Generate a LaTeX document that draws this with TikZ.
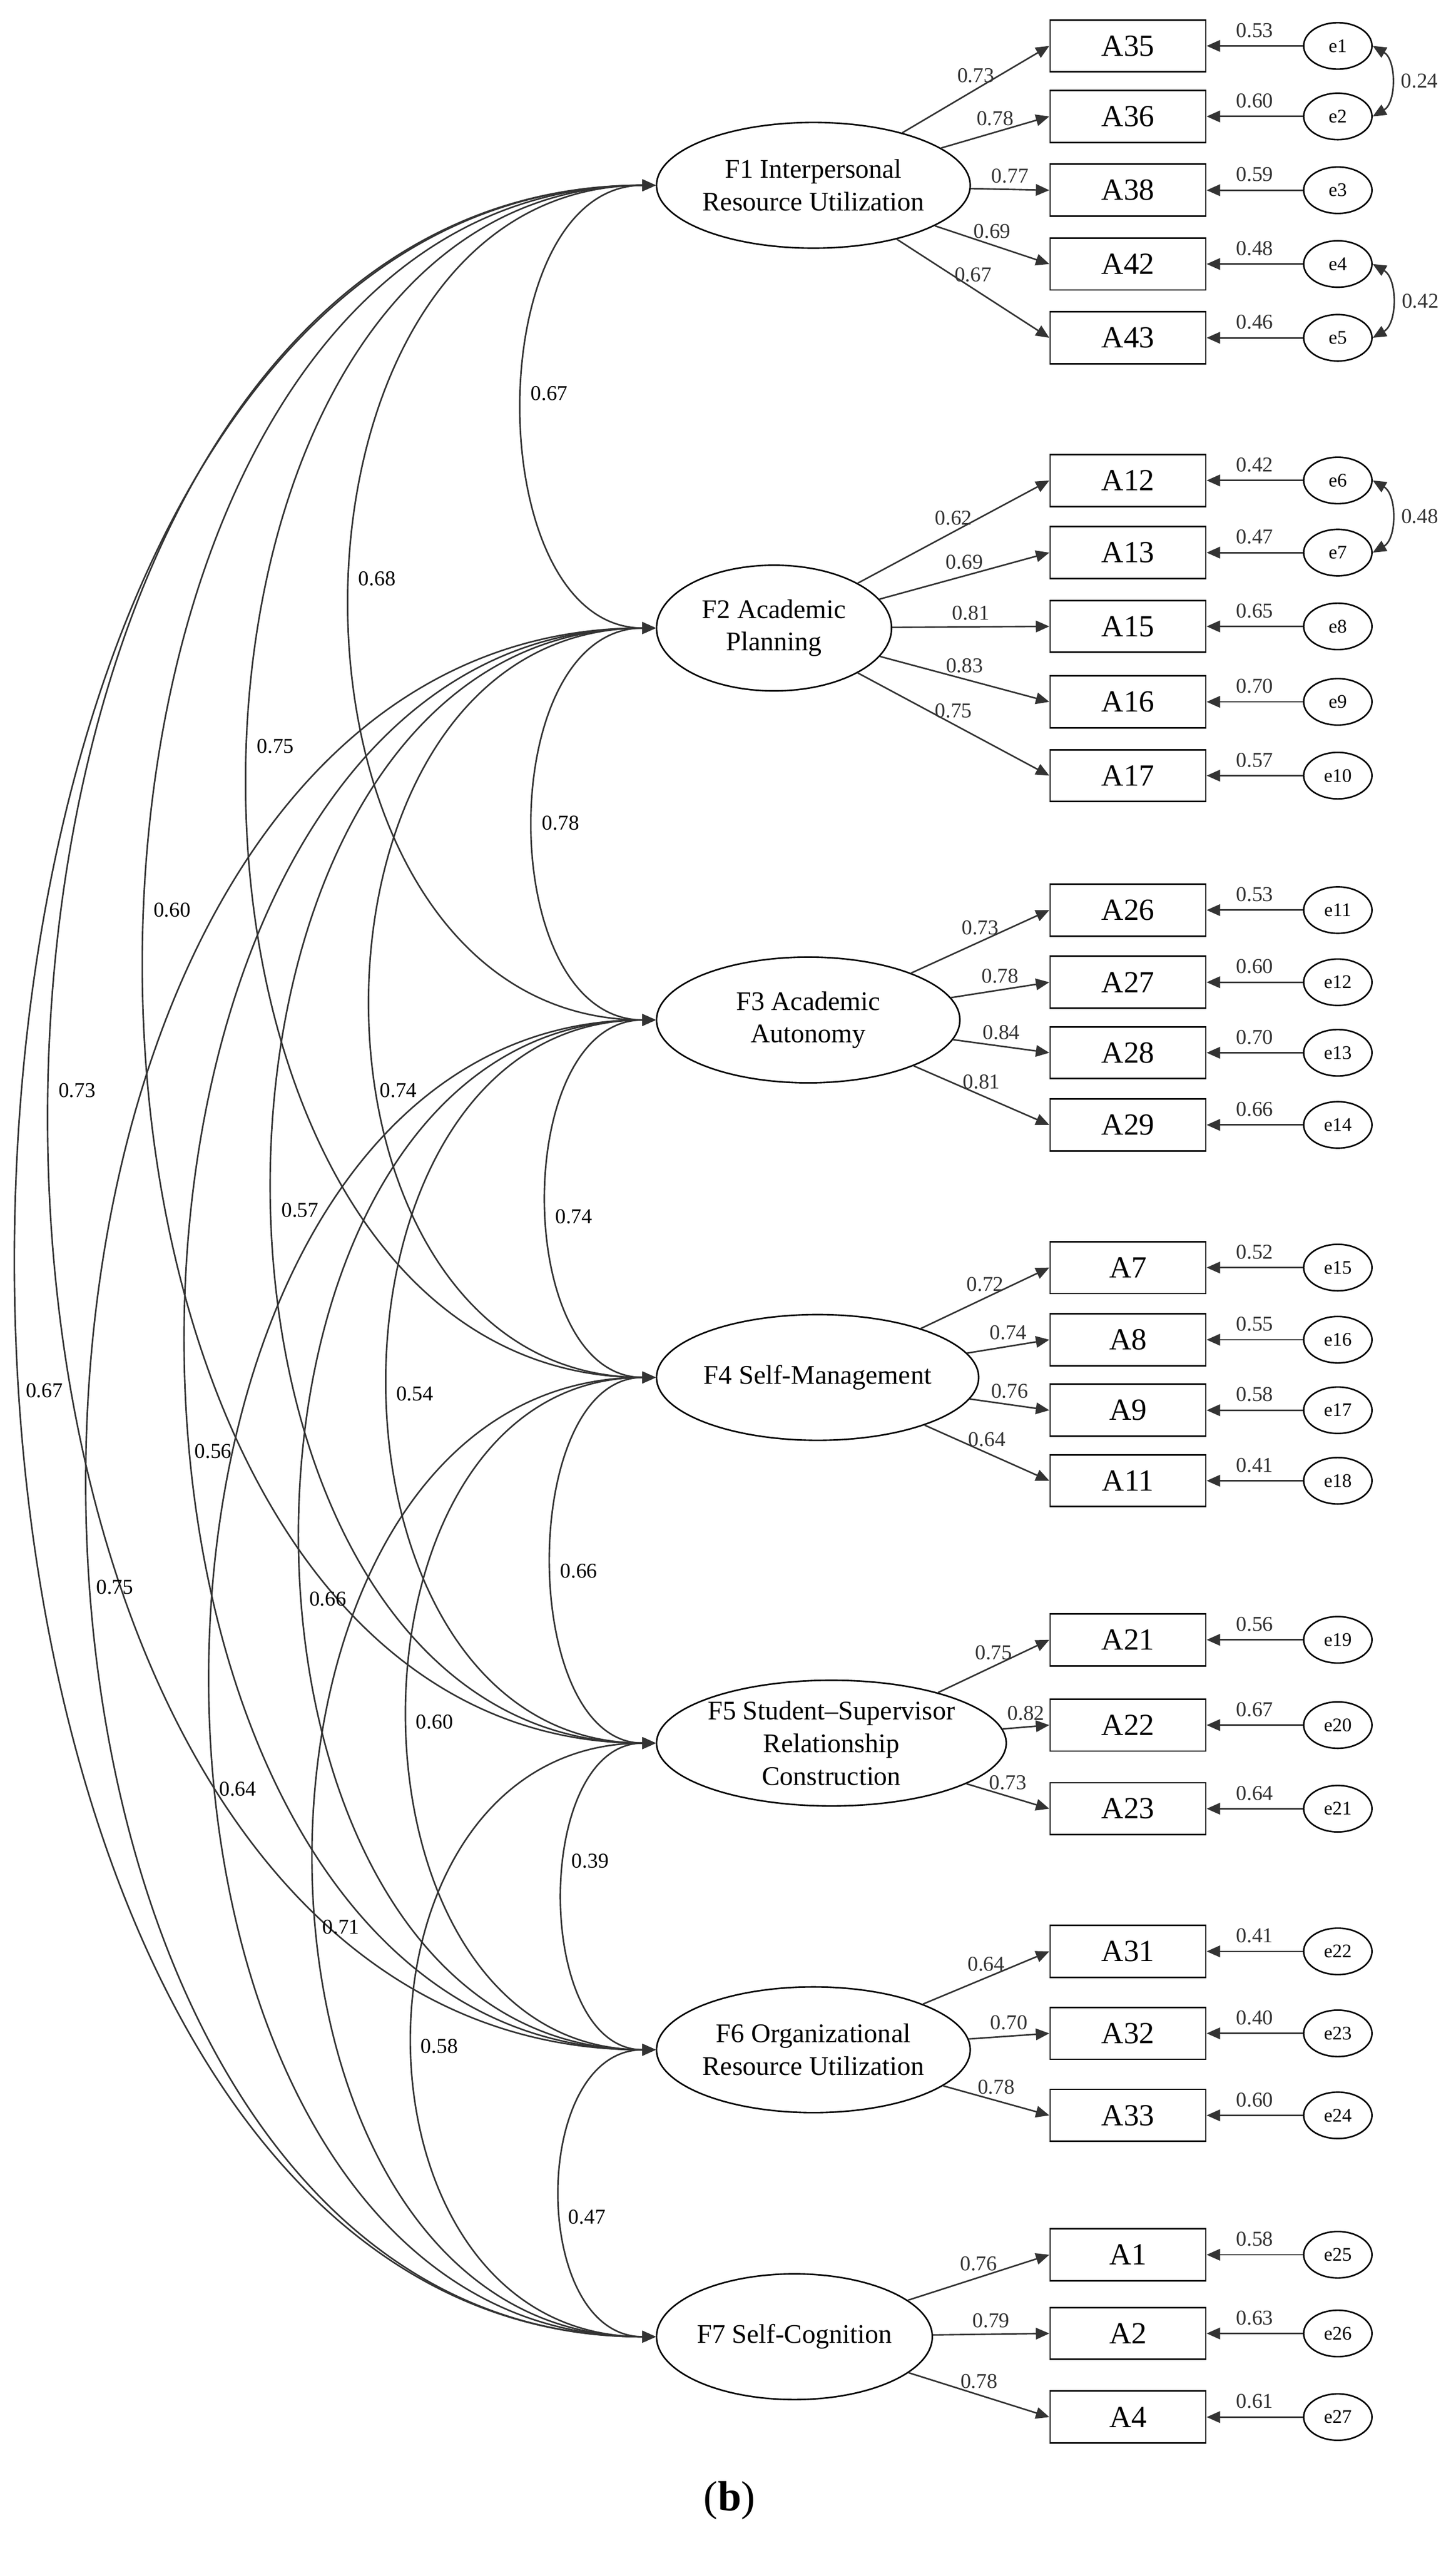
\documentclass[tikz,border=0pt]{standalone}
\usepackage{fontspec}
\setmainfont{Liberation Serif}
\usetikzlibrary{positioning}
\usetikzlibrary{shapes,arrows.meta,calc}
\tikzset{
    % standard arrow tip
    >={Triangle[length=7pt,width=6pt]},
    % latent factor
    factor/.style={
           draw,
           thick,
           ellipse,
           anchor=west,
           inner sep=0pt,
           minimum height=2.3cm,
           align=center,
           font=\fontsize{14}{17}\selectfont},
    % observed item
    item/.style={
           draw,
           thick,
           rectangle,
           minimum width=2.85cm,
           minimum height=0.95cm,
           font=\fontsize{16}{18}\selectfont},
    % error term
    err/.style={
           draw,
           thick,
           ellipse,
           inner sep=0pt,
           minimum width=1.25cm,
           minimum height=0.85cm,
           font=\fontsize{10}{12}\selectfont},
    % coefficients
    coef/.style={
           font=\fontsize{11}{13}\selectfont,
           inner sep=1pt},
    pil/.style={
           ->,
           thick,
           black!80}
}

\begin{document}
\begin{tikzpicture}[x=0.03cm,y=-0.03cm]

\useasboundingbox (0,0) rectangle (888,1563);

% factors
\node [factor, minimum width=5.55cm] (f1) at (400, 113) {F1 Interpersonal\\Resource Utilization};
\node [factor, minimum width=4.3cm]  (f2) at (400, 383) {F2 Academic\\Planning};
\node [factor, minimum width=5.55cm] (f3) at (400, 622) {F3 Academic\\Autonomy};
\node [factor, minimum width=5.55cm] (f4) at (400, 840) {F4 Self-Management};
\node [factor, minimum width=5.95cm] (f5) at (400,1063) {F5 Student--Supervisor\\Relationship\\Construction};
\node [factor, minimum width=5.55cm] (f6) at (400,1250) {F6 Organizational\\Resource Utilization};
\node [factor, minimum width=4.8cm]  (f7) at (400,1425) {F7 Self-Cognition};

% items and errors
\foreach \ind/\y/\lf/\err/\le/\fac in {
    A35/28/0.73/e1/0.53/f1, A36/71/0.78/e2/0.60/f1, A38/116/0.77/e3/0.59/f1,
    A42/161/0.69/e4/0.48/f1, A43/206/0.67/e5/0.46/f1,
    A12/293/0.62/e6/0.42/f2, A13/337/0.69/e7/0.47/f2, A15/382/0.81/e8/0.65/f2,
    A16/428/0.83/e9/0.70/f2, A17/473/0.75/e10/0.57/f2,
    A26/555/0.73/e11/0.53/f3, A27/599/0.78/e12/0.60/f3, A28/642/0.84/e13/0.70/f3,
    A29/686/0.81/e14/0.66/f3,
    A7/773/0.72/e15/0.52/f4, A8/817/0.74/e16/0.55/f4, A9/860/0.76/e17/0.58/f4,
    A11/903/0.64/e18/0.41/f4,
    A21/1000/0.75/e19/0.56/f5, A22/1052/0.82/e20/0.67/f5, A23/1103/0.73/e21/0.64/f5,
    A31/1190/0.64/e22/0.41/f6, A32/1240/0.70/e23/0.40/f6, A33/1290/0.78/e24/0.60/f6,
    A1/1375/0.76/e25/0.58/f7, A2/1423/0.79/e26/0.63/f7, A4/1474/0.78/e27/0.61/f7}
{
    \node [item] (\ind) at (688,\y) {\ind};
    \node [err] (\err) at (816,\y) {\err};
    \draw [pil] (\fac) -- (\ind.west) node [coef, pos=0.5, above=2pt] {\lf};
    \draw [pil] (\err) -- (\ind.east) node [coef, midway, above=3pt] {\le};
}

% error covariances
\foreach \a/\b/\v in {e1/e2/0.24, e4/e5/0.42, e6/e7/0.48}
    \draw [pil, <->] (\a.east) to [bend left=60] node [coef, right=4pt] {\v} (\b.east);

% factor correlations
\foreach \a/\b/\k/\lx/\ly/\v in {
    f1/f2/108/335/240/0.67, f1/f3/248/230/353/0.68, f1/f4/331/168/455/0.75,
    f1/f5/415/105/555/0.60, f1/f6/492/47/665/0.73,  f1/f7/519/27/848/0.67,
    f2/f3/99/342/502/0.78,  f2/f4/231/243/665/0.74, f2/f5/311/183/738/0.57,
    f2/f6/381/130/885/0.56, f2/f7/461/70/968/0.75,
    f3/f4/88/350/742/0.74,  f3/f5/217/253/850/0.54, f3/f6/288/200/975/0.66,
    f3/f7/361/145/1091/0.64,
    f4/f5/84/353/958/0.66,  f4/f6/201/265/1050/0.60, f4/f7/277/208/1175/0.71,
    f5/f6/75/360/1135/0.39, f5/f7/197/268/1248/0.58,
    f6/f7/77/358/1352/0.47}
{
    \draw [pil, <->] (\a.west) .. controls ($(\a.west)+(-\k,0)$) and ($(\b.west)+(-\k,0)$) .. (\b.west);
    \node [coef] (r\a\b) at (\lx,\ly) {\v};
}

\node [font=\fontsize{22}{24}\selectfont] (cap) at (445,1525) {(\textbf{b})};

\end{tikzpicture}
\end{document}
